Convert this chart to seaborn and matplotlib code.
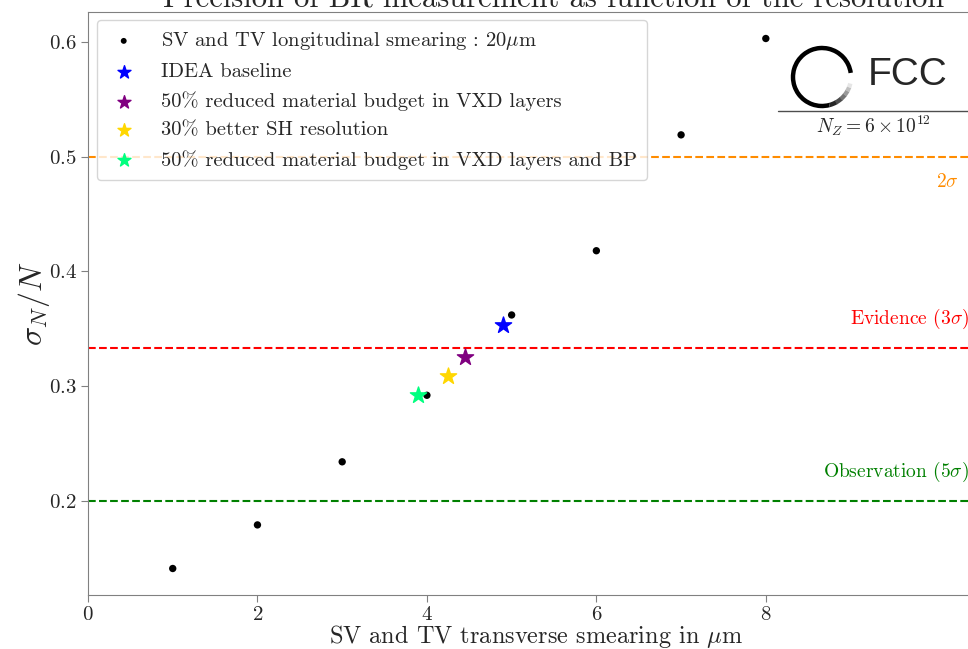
import numpy as np
import pandas as pd
import seaborn as sns
import matplotlib.pyplot as plt
from matplotlib.patches import Arc
from matplotlib.lines import Line2D

# data
smearing = [1, 2, 3, 4, 5, 6, 7, 8]
precision = [0.141, 0.179, 0.234, 0.292, 0.362, 0.418, 0.519, 0.603]

star_labels = ["IDEA baseline",
               "50% reduced material budget in VXD layers",
               "30% better SH resolution",
               "50% reduced material budget in VXD layers and BP"]
star_x = [4.90, 4.45, 4.25, 3.90]
star_y = [0.353, 0.325, 0.309, 0.292]
star_colors = ["blue", "purple", "gold", "springgreen"]

sig_levels = [0.5, 1 / 3, 0.2]
sig_labels = [r"$2\sigma$", r"Evidence ($3\sigma$)", r"Observation ($5\sigma$)"]
sig_colors = ["darkorange", "red", "green"]

sns.set_style("white")
plt.rcParams["font.family"] = ["cmr10", "DejaVu Serif"]
plt.rcParams["mathtext.fontset"] = "cm"
plt.rcParams["axes.formatter.use_mathtext"] = True
plt.rcParams["axes.unicode_minus"] = False

W, H = 968, 649
fig = plt.figure(figsize=(W / 100, H / 100), dpi=100)
ax = fig.add_axes([88 / W, (H - 595) / H, 932 / W, 583 / H])

df = pd.DataFrame({"x": smearing, "y": precision})
sns.scatterplot(data=df, x="x", y="y", color="black", s=28, edgecolor="none",
                label=r"SV and TV longitudinal smearing : 20$\mu$m", ax=ax, zorder=3)
for xs, ys, c, lab in zip(star_x, star_y, star_colors, star_labels):
    ax.scatter([xs], [ys], marker="*", s=150, color=c, label=lab, zorder=4)

ax.set_xlim(0, 11)
ax.margins(y=0.05)
label_x = [10.28, 10.4, 10.4]
for lvl, lab, c, lx in zip(sig_levels, sig_labels, sig_colors, label_x):
    off = -0.022 if lvl == 0.5 else 0.025
    ax.axhline(lvl, color=c, ls="--", lw=1.5, zorder=1)
    ax.text(lx, lvl + off, lab, color=c, fontsize=14, ha="right", va="center")

ax.set_xticks([0, 2, 4, 6, 8])
ax.set_yticks([0.2, 0.3, 0.4, 0.5, 0.6])
ax.tick_params(labelsize=15, direction="out", length=5, pad=3, left=True, bottom=True, color="0.5")
for s in ax.spines.values():
    s.set_color("0.5")
ax.set_xlabel(r"SV and TV transverse smearing in $\mu$m", fontsize=17.5)
ax.xaxis.set_label_coords(0.481, -0.048, transform=ax.transAxes)
ax.set_ylabel(r"$\sigma_N/N$", fontsize=23, labelpad=-2)
ax.set_title("Precision of BR measurement as function of the resolution", fontsize=22, pad=3)

leg = ax.legend(loc="upper left", fontsize=14.8, frameon=True, handlelength=1.6,
                handletextpad=1.0, borderpad=0.5, labelspacing=0.5, markerscale=0.8,
                borderaxespad=0, bbox_to_anchor=(9 / 932, 1 - 8 / 583))
leg.get_frame().set_edgecolor("0.8")

# FCC logo
cx, cy, r = 822, 77, 29
arc_kw = dict(transform=fig.transFigure, lw=3.2)
fig.add_artist(Arc((cx / W, 1 - cy / H), 2 * r / W, 2 * r / H, theta1=12, theta2=280, color="black", **arc_kw))
for i, t in enumerate(range(280, 340, 10)):
    g = 0.15 + 0.15 * i
    fig.add_artist(Arc((cx / W, 1 - cy / H), 2 * r / W, 2 * r / H, theta1=t, theta2=t + 11, color=str(min(g, 0.95)), **arc_kw))
fig.text(868 / W, 1 - 75 / H, "FCC", fontsize=28, family="Liberation Sans", va="center", ha="left")
fig.add_artist(Line2D([778 / W, 1.0], [1 - 111 / H, 1 - 111 / H], color="0.3", lw=1, transform=fig.transFigure))
fig.text(873 / W, 1 - 126 / H, r"$N_Z = 6\times10^{12}$", fontsize=14, ha="center", va="center")

fig.savefig("out.png", dpi=100)
